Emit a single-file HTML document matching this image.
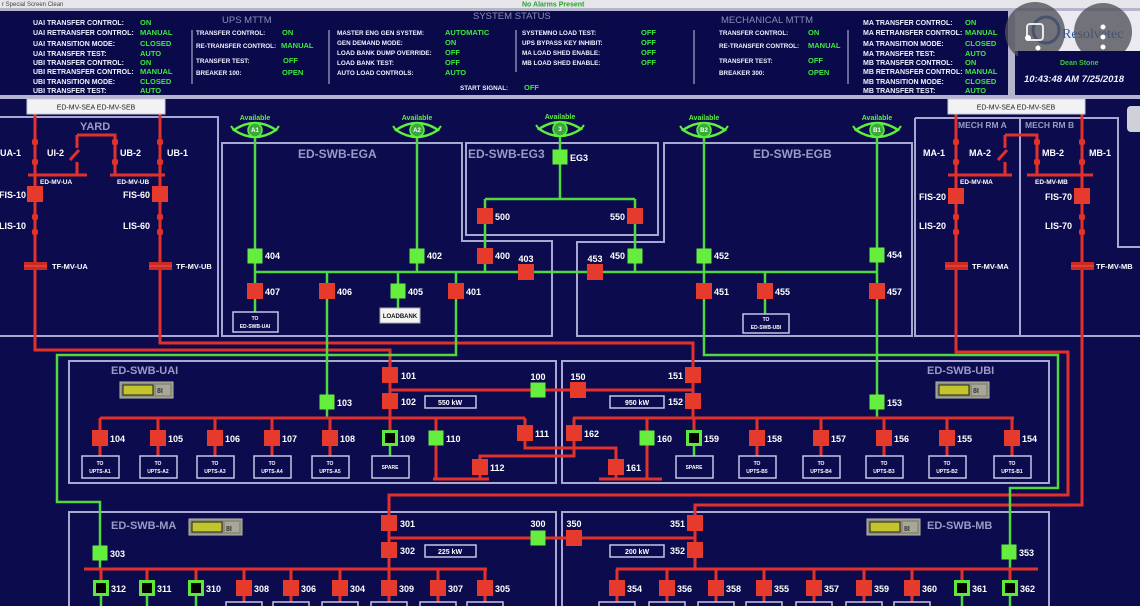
<!DOCTYPE html>
<html><head><meta charset="utf-8"><style>
html,body{margin:0;padding:0;background:#0b0b4e;overflow:hidden}
svg{display:block}
text{font-family:"Liberation Sans",sans-serif;font-weight:bold}
.hl{fill:#f0f0ff;font-size:7px}
.hs{fill:#f0f0ff;font-size:6.3px}
.hv{fill:#3ee83e;font-size:7.5px}
.ht{fill:#8c8cb8;font-size:9.5px;font-weight:normal}
.pt{fill:#9a9ac4;font-size:12px}
.bl{fill:#ffffff;font-size:9px}
.sm{fill:#ffffff;font-size:6.5px}
.tiny{fill:#ffffff;font-size:5px}
.av{fill:#5ef03e;font-size:7px}
.rl{stroke:#e2302a;stroke-width:3;fill:none}
.gl{stroke:#50d83c;stroke-width:2.5;fill:none}
.pb{stroke:#a8a8d2;stroke-width:2;fill:none}
.bx{stroke:#c4c4e4;stroke-width:1.5;fill:#0b0b4e}
</style></head><body>
<svg width="1140" height="606" viewBox="0 0 1140 606" xmlns="http://www.w3.org/2000/svg">
<defs>
<g id="rb"><rect x="-8" y="-8" width="16" height="16" fill="#e63a2c"/></g>
<g id="gb"><rect x="-7.5" y="-7.5" width="15" height="15" fill="#66ee3e"/></g>
<g id="kb"><rect x="-6.5" y="-6.5" width="13" height="13" fill="#000" stroke="#5ee83a" stroke-width="3"/></g>
<g id="eye"><path d="M-21,0 Q0,-14 21,0 Q0,14 -21,0 Z" fill="#0b0b4e" stroke="#5ef03e" stroke-width="2.5"/><path d="M-24,-4 L-21,0 M24,-4 L21,0" stroke="#5ef03e" stroke-width="2"/><circle r="7" fill="#3aa83a" stroke="#5ef03e" stroke-width="1.5"/></g>
<g id="dot"><rect x="-3" y="-3" width="6" height="6" rx="2" fill="#e2302a"/></g>
<g id="ind"><rect x="0" y="0" width="53" height="16" fill="#8e8e7e" stroke="#b8b8a8" stroke-width="1"/><rect x="3" y="3" width="30" height="10" fill="#c4c42c" stroke="#222" stroke-width="1"/><rect x="36" y="3" width="14" height="10" fill="#a8a898"/></g>
</defs>

<rect width="1140" height="606" fill="#0b0b4e"/>

<!-- top menu -->
<rect x="0" y="0" width="1140" height="8" fill="#e6e6ea"/>
<text x="2" y="6" style="font-size:6px;fill:#444;font-weight:normal">r   Special      Screen Clean</text>
<text x="522" y="6.5" style="font-size:7px;fill:#2aa02a">No Alarms Present</text>
<rect x="0" y="8" width="1140" height="3" fill="#b4b4cc"/>

<!-- header -->
<rect x="0" y="11" width="1010" height="84" fill="#0a0a4a"/>
<g>
<text class="hl" x="33" y="25">UAI TRANSFER CONTROL:</text><text class="hv" x="140" y="25">ON</text>
<text class="hl" x="33" y="35">UAI RETRANSFER CONTROL:</text><text class="hv" x="140" y="35">MANUAL</text>
<text class="hl" x="33" y="46">UAI TRANSITION MODE:</text><text class="hv" x="140" y="46">CLOSED</text>
<text class="hl" x="33" y="56">UAI TRANSFER TEST:</text><text class="hv" x="140" y="56">AUTO</text>
<text class="hl" x="33" y="65">UBI TRANSFER CONTROL:</text><text class="hv" x="140" y="65">ON</text>
<text class="hl" x="33" y="74">UBI RETRANSFER CONTROL:</text><text class="hv" x="140" y="74">MANUAL</text>
<text class="hl" x="33" y="84">UBI TRANSITION MODE:</text><text class="hv" x="140" y="84">CLOSED</text>
<text class="hl" x="33" y="93">UBI TRANSFER TEST:</text><text class="hv" x="140" y="93">AUTO</text>
</g>
<line x1="192" y1="30" x2="192" y2="84" stroke="#8888b0" stroke-width="1.5"/>
<text class="ht" x="222" y="23">UPS MTTM</text>
<text class="hs" x="196" y="35">TRANSFER CONTROL:</text><text class="hv" x="282" y="35">ON</text>
<text class="hs" x="196" y="48">RE-TRANSFER CONTROL:</text><text class="hv" x="281" y="48">MANUAL</text>
<text class="hs" x="196" y="63">TRANSFER TEST:</text><text class="hv" x="283" y="63">OFF</text>
<text class="hs" x="196" y="75">BREAKER 100:</text><text class="hv" x="282" y="75">OPEN</text>
<line x1="329" y1="30" x2="329" y2="84" stroke="#8888b0" stroke-width="1.5"/>
<text class="ht" x="473" y="19">SYSTEM STATUS</text>
<text class="hs" x="337" y="35">MASTER ENG GEN SYSTEM:</text><text class="hv" x="445" y="35">AUTOMATIC</text>
<text class="hs" x="337" y="45">GEN DEMAND MODE:</text><text class="hv" x="445" y="45">ON</text>
<text class="hs" x="337" y="55">LOAD BANK DUMP OVERRIDE:</text><text class="hv" x="445" y="55">OFF</text>
<text class="hs" x="337" y="65">LOAD BANK TEST:</text><text class="hv" x="445" y="65">OFF</text>
<text class="hs" x="337" y="75">AUTO LOAD CONTROLS:</text><text class="hv" x="445" y="75">AUTO</text>
<text class="hs" x="460" y="90">START SIGNAL:</text><text class="hv" x="524" y="90">OFF</text>
<line x1="516" y1="30" x2="516" y2="72" stroke="#8888b0" stroke-width="1.5"/>
<text class="hs" x="522" y="35">SYSTEMNO LOAD TEST:</text><text class="hv" x="641" y="35">OFF</text>
<text class="hs" x="522" y="45">UPS BYPASS KEY INHIBIT:</text><text class="hv" x="641" y="45">OFF</text>
<text class="hs" x="522" y="55">MA LOAD SHED ENABLE:</text><text class="hv" x="641" y="55">OFF</text>
<text class="hs" x="522" y="65">MB LOAD SHED ENABLE:</text><text class="hv" x="641" y="65">OFF</text>
<line x1="694" y1="30" x2="694" y2="84" stroke="#8888b0" stroke-width="1.5"/>
<text class="ht" x="721" y="23">MECHANICAL MTTM</text>
<text class="hs" x="719" y="35">TRANSFER CONTROL:</text><text class="hv" x="808" y="35">ON</text>
<text class="hs" x="719" y="48">RE-TRANSFER CONTROL:</text><text class="hv" x="808" y="48">MANUAL</text>
<text class="hs" x="719" y="63">TRANSFER TEST:</text><text class="hv" x="808" y="63">OFF</text>
<text class="hs" x="719" y="75">BREAKER 300:</text><text class="hv" x="808" y="75">OPEN</text>
<line x1="848" y1="30" x2="848" y2="84" stroke="#8888b0" stroke-width="1.5"/>
<g>
<text class="hl" x="863" y="25">MA TRANSFER CONTROL:</text><text class="hv" x="965" y="25">ON</text>
<text class="hl" x="863" y="35">MA RETRANSFER CONTROL:</text><text class="hv" x="965" y="35">MANUAL</text>
<text class="hl" x="863" y="46">MA TRANSITION MODE:</text><text class="hv" x="965" y="46">CLOSED</text>
<text class="hl" x="863" y="56">MA TRANSFER TEST:</text><text class="hv" x="965" y="56">AUTO</text>
<text class="hl" x="863" y="65">MB TRANSFER CONTROL:</text><text class="hv" x="965" y="65">ON</text>
<text class="hl" x="863" y="74">MB RETRANSFER CONTROL:</text><text class="hv" x="965" y="74">MANUAL</text>
<text class="hl" x="863" y="84">MB TRANSITION MODE:</text><text class="hv" x="965" y="84">CLOSED</text>
<text class="hl" x="863" y="93">MB TRANSFER TEST:</text><text class="hv" x="965" y="93">AUTO</text>
</g>

<!-- right logo / clock -->
<rect x="1008" y="11" width="7" height="86" fill="#b4b4cc"/>
<rect x="1015" y="11" width="125" height="40" fill="#eaeaf0"/>
<text x="1062" y="38" style="font-size:14px;fill:#2a5ab0;font-weight:normal;font-family:'Liberation Serif',serif">Resolvetec</text>
<circle cx="1046" cy="30" r="13" fill="none" stroke="#2a5ab0" stroke-width="3"/>
<circle cx="1035" cy="32" r="30" fill="#505058" fill-opacity="0.78"/>
<circle cx="1103" cy="32" r="29" fill="#505058" fill-opacity="0.78"/>
<rect x="1027" y="24" width="16" height="16" rx="3" fill="none" stroke="#e8e8e8" stroke-width="2"/>
<circle cx="1028" cy="38" r="3" fill="#fff"/><circle cx="1038" cy="48" r="2.5" fill="#fff"/>
<circle cx="1103" cy="27" r="2.5" fill="#fff"/><circle cx="1103" cy="37" r="2.5" fill="#fff"/><circle cx="1103" cy="47" r="2.5" fill="#fff"/>
<rect x="1018" y="51" width="122" height="44" fill="#0a0a4a"/>
<text x="1060" y="65" style="font-size:7px;fill:#3ec83e">Dean Stone</text>
<text x="1024" y="82" style="font-size:9.5px;fill:#f0f0ff;font-style:italic">10:43:48 AM  7/25/2018</text>

<rect x="0" y="95" width="1140" height="4" fill="#b4b4d2"/>

<!-- panels -->
<path class="pb" d="M-2 117 H218 V336 H-2"/>
<path class="pb" d="M222 143 H462 V241 H552 V336 H222 Z"/>
<rect class="pb" x="466" y="143" width="192" height="92"/>
<path class="pb" d="M577 336 V242 H664 V143 H912 V336 Z"/>
<path class="pb" d="M915 118 H1118 V247 H1142"/>
<path class="pb" d="M915 118 V336 H1142"/>
<line class="pb" x1="1020" y1="118" x2="1020" y2="336"/>
<rect class="pb" x="69" y="361" width="487" height="122"/>
<rect class="pb" x="562" y="361" width="487" height="122"/>
<rect class="pb" x="69" y="512" width="487" height="100"/>
<rect class="pb" x="562" y="512" width="487" height="100"/>
<rect x="1127" y="106" width="16" height="26" rx="4" fill="#d0d0d8"/>

<text class="pt" x="80" y="130" style="font-size:11px">YARD</text>
<text class="pt" x="298" y="158">ED-SWB-EGA</text>
<text class="pt" x="468" y="158">ED-SWB-EG3</text>
<text class="pt" x="753" y="158">ED-SWB-EGB</text>
<text class="pt" x="958" y="128" style="font-size:8.5px">MECH RM A</text>
<text class="pt" x="1025" y="128" style="font-size:8.5px">MECH RM B</text>
<text class="pt" x="111" y="374" style="font-size:11px">ED-SWB-UAI</text>
<text class="pt" x="927" y="374" style="font-size:11px">ED-SWB-UBI</text>
<text class="pt" x="111" y="529" style="font-size:11px">ED-SWB-MA</text>
<text class="pt" x="927" y="529" style="font-size:11px">ED-SWB-MB</text>

<!-- red feeders -->
<path class="rl" d="M35 114 V350 H390 V418"/>
<path class="rl" d="M160 114 V343 H693 V418"/>
<path class="rl" d="M956 114 V352 H1068 V495 H389 V569"/>
<path class="rl" d="M1082 114 V505 H695 V569"/>
<!-- yard switches -->
<path class="rl" d="M28 175 H87 M110 175 H165 M77 135 H115 V175 M77 135 V148 M79 150 L70 160 M77 162 V175"/>
<path class="rl" d="M948 175 H1012 M1027 175 H1093 M1005 135 H1037 V175 M1005 135 V148 M1007 150 L998 160 M1005 162 V175"/>

<!-- green network -->
<path class="gl" d="M255 136 V316"/>
<path class="gl" d="M417 136 V272"/>
<path class="gl" d="M560 136 V199 M485 199 H635 M485 199 V272 M635 199 V272"/>
<path class="gl" d="M704 136 V355 H1058 V488 H1010 V569"/>
<path class="gl" d="M877 136 V418"/>
<path class="gl" d="M255 272 H877"/>
<path class="gl" d="M327 272 V418"/>
<path class="gl" d="M398 272 V308"/>
<path class="gl" d="M456 272 V355 H57 V502 H100 V569"/>
<path class="gl" d="M765 272 V315"/>

<!-- UAI / UBI red -->
<path class="rl" d="M390 390 H693"/>
<path class="rl" d="M100 418 H525 M573 418 H1014"/>
<path class="rl" d="M100 418 V456 M158 418 V456 M215 418 V456 M272 418 V456 M330 418 V456 M390 418 V432"/>
<path class="rl" d="M436 418 V479 M433 479 H489 M525 418 V448 H616 V479 M574 418 V456 H480 V479 M599 479 H662 M647 418 V479"/>
<path class="rl" d="M694 418 V432 M757 418 V456 M821 418 V456 M884 418 V456 M947 418 V456 M1012 418 V456"/>
<path class="gl" d="M390 444 V456 M694 444 V456"/>
<!-- MA / MB red -->
<path class="rl" d="M389 538 H695"/>
<path class="rl" d="M84 569 H487 M616 569 H1038"/>
<path class="rl" d="M101 569 V582 M147 569 V582 M196 569 V582 M244 569 V606 M291 569 V606 M340 569 V606 M389 569 V606 M438 569 V606 M485 569 V606"/>
<path class="rl" d="M617 569 V606 M667 569 V606 M716 569 V606 M764 569 V606 M814 569 V606 M864 569 V606 M912 569 V606 M962 569 V582 M1010 569 V582"/>
<path class="gl" d="M101 594 V606 M147 594 V606 M196 594 V606 M962 594 V606 M1010 594 V606"/>

<!-- disconnect dots -->
<use href="#dot" x="35" y="142"/><use href="#dot" x="35" y="162"/><use href="#dot" x="160" y="142"/><use href="#dot" x="160" y="162"/>
<use href="#dot" x="115" y="142"/><use href="#dot" x="115" y="162"/>
<use href="#dot" x="35" y="217"/><use href="#dot" x="35" y="232"/><use href="#dot" x="160" y="217"/><use href="#dot" x="160" y="232"/>
<use href="#dot" x="956" y="142"/><use href="#dot" x="956" y="162"/><use href="#dot" x="1082" y="142"/><use href="#dot" x="1082" y="162"/>
<use href="#dot" x="1037" y="142"/><use href="#dot" x="1037" y="162"/>
<use href="#dot" x="956" y="217"/><use href="#dot" x="956" y="232"/><use href="#dot" x="1082" y="217"/><use href="#dot" x="1082" y="232"/>
<!-- transformers -->
<rect x="24" y="262" width="23" height="8" fill="#c82a24"/><rect x="149" y="262" width="23" height="8" fill="#c82a24"/>
<rect x="945" y="262" width="23" height="8" fill="#c82a24"/><rect x="1071" y="262" width="23" height="8" fill="#c82a24"/>
<path d="M24 266 H47 M149 266 H172 M945 266 H968 M1071 266 H1094" stroke="#ff5040" stroke-width="1"/>

<!-- yard labels -->
<text class="bl" x="0" y="156">UA-1</text><text class="bl" x="47" y="156">UI-2</text>
<text class="bl" x="120" y="156">UB-2</text><text class="bl" x="167" y="156">UB-1</text>
<text class="sm" x="40" y="184">ED-MV-UA</text><text class="sm" x="117" y="184">ED-MV-UB</text>
<text class="bl" x="26" y="198" text-anchor="end">FIS-10</text><text class="bl" x="150" y="198" text-anchor="end">FIS-60</text>
<text class="bl" x="26" y="229" text-anchor="end">LIS-10</text><text class="bl" x="150" y="229" text-anchor="end">LIS-60</text>
<text class="sm" x="52" y="269" style="font-size:7.5px">TF-MV-UA</text><text class="sm" x="176" y="269" style="font-size:7.5px">TF-MV-UB</text>
<text class="bl" x="923" y="156">MA-1</text><text class="bl" x="969" y="156">MA-2</text>
<text class="bl" x="1042" y="156">MB-2</text><text class="bl" x="1089" y="156">MB-1</text>
<text class="sm" x="960" y="184">ED-MV-MA</text><text class="sm" x="1035" y="184">ED-MV-MB</text>
<text class="bl" x="946" y="200" text-anchor="end">FIS-20</text><text class="bl" x="1072" y="200" text-anchor="end">FIS-70</text>
<text class="bl" x="946" y="229" text-anchor="end">LIS-20</text><text class="bl" x="1072" y="229" text-anchor="end">LIS-70</text>
<text class="sm" x="972" y="269" style="font-size:7.5px">TF-MV-MA</text><text class="sm" x="1096" y="269" style="font-size:7.5px">TF-MV-MB</text>

<!-- top label boxes -->
<rect x="27" y="99" width="138" height="15" fill="#f2f2f4" stroke="#c8c8d8"/>
<text x="96" y="109.5" text-anchor="middle" style="font-size:7px;fill:#222;font-weight:normal">ED-MV-SEA  ED-MV-SEB</text>
<rect x="948" y="99" width="137" height="15" fill="#f2f2f4" stroke="#c8c8d8"/>
<text x="1016" y="109.5" text-anchor="middle" style="font-size:7px;fill:#222;font-weight:normal">ED-MV-SEA ED-MV-SEB</text>

<!-- eyes -->
<g>
<text class="av" x="255" y="120" text-anchor="middle">Available</text><use href="#eye" x="255" y="130"/><text class="tiny" x="255" y="132" text-anchor="middle" style="font-size:6px">A1</text>
<text class="av" x="417" y="120" text-anchor="middle">Available</text><use href="#eye" x="417" y="130"/><text class="tiny" x="417" y="132" text-anchor="middle" style="font-size:6px">A2</text>
<text class="av" x="560" y="119" text-anchor="middle">Available</text><use href="#eye" x="560" y="129"/><text class="tiny" x="560" y="131" text-anchor="middle" style="font-size:6px">3</text>
<text class="av" x="704" y="120" text-anchor="middle">Available</text><use href="#eye" x="704" y="130"/><text class="tiny" x="704" y="132" text-anchor="middle" style="font-size:6px">B2</text>
<text class="av" x="877" y="120" text-anchor="middle">Available</text><use href="#eye" x="877" y="130"/><text class="tiny" x="877" y="132" text-anchor="middle" style="font-size:6px">B1</text>
</g>

<!-- small boxes top -->
<rect class="bx" x="233" y="312" width="45" height="20"/>
<text class="tiny" x="255" y="320" text-anchor="middle">TO</text><text class="tiny" x="255" y="328" text-anchor="middle">ED-SWB-UAI</text>
<rect x="380" y="308" width="40" height="15" fill="#f4f4f4" stroke="#aaa"/>
<text x="400" y="318" text-anchor="middle" style="font-size:6px;fill:#111">LOADBANK</text>
<rect class="bx" x="743" y="314" width="46" height="19"/>
<text class="tiny" x="766" y="321" text-anchor="middle">TO</text><text class="tiny" x="766" y="329" text-anchor="middle">ED-SWB-UBI</text>

<!-- breakers top -->
<use href="#gb" x="255" y="256"/><use href="#rb" x="255" y="291"/><use href="#rb" x="327" y="291"/>
<use href="#gb" x="417" y="256"/><use href="#gb" x="398" y="291"/><use href="#rb" x="456" y="291"/>
<use href="#rb" x="485" y="256"/><use href="#rb" x="485" y="216"/><use href="#rb" x="635" y="216"/>
<use href="#gb" x="635" y="256"/><use href="#gb" x="560" y="157"/>
<use href="#rb" x="526" y="272"/><use href="#rb" x="595" y="272"/>
<use href="#gb" x="704" y="256"/><use href="#rb" x="704" y="291"/><use href="#rb" x="765" y="291"/>
<use href="#gb" x="877" y="255"/><use href="#rb" x="877" y="291"/>
<use href="#rb" x="35" y="194"/><use href="#rb" x="160" y="194"/><use href="#rb" x="956" y="196"/><use href="#rb" x="1082" y="196"/>

<g class="bl">
<text class="bl" x="265" y="259">404</text><text class="bl" x="265" y="295">407</text><text class="bl" x="337" y="295">406</text>
<text class="bl" x="427" y="259">402</text><text class="bl" x="408" y="295">405</text><text class="bl" x="466" y="295">401</text>
<text class="bl" x="495" y="259">400</text><text class="bl" x="495" y="220">500</text><text class="bl" x="625" y="220" text-anchor="end">550</text>
<text class="bl" x="625" y="259" text-anchor="end">450</text><text class="bl" x="570" y="161">EG3</text>
<text class="bl" x="526" y="262" text-anchor="middle">403</text><text class="bl" x="595" y="262" text-anchor="middle">453</text>
<text class="bl" x="714" y="259">452</text><text class="bl" x="714" y="295">451</text><text class="bl" x="775" y="295">455</text>
<text class="bl" x="887" y="258">454</text><text class="bl" x="887" y="295">457</text>
</g>

<!-- UAI -->
<use href="#ind" x="120" y="382"/><text x="157" y="393" style="font-size:7px;fill:#333">8I</text>
<use href="#ind" x="936" y="382"/><text x="973" y="393" style="font-size:7px;fill:#333">8I</text>
<rect class="bx" x="425" y="396" width="51" height="12"/><text class="sm" x="450" y="405" text-anchor="middle" style="font-size:7px">550 kW</text>
<rect class="bx" x="610" y="396" width="54" height="12"/><text class="sm" x="637" y="405" text-anchor="middle" style="font-size:7px">950 kW</text>

<use href="#rb" x="390" y="375"/><use href="#rb" x="390" y="401"/><use href="#gb" x="327" y="402"/><use href="#gb" x="538" y="390"/>
<use href="#rb" x="100" y="438"/><use href="#rb" x="158" y="438"/><use href="#rb" x="215" y="438"/><use href="#rb" x="272" y="438"/><use href="#rb" x="330" y="438"/>
<use href="#kb" x="390" y="438"/><use href="#gb" x="436" y="438"/><use href="#rb" x="525" y="433"/><use href="#rb" x="480" y="467"/>
<use href="#rb" x="578" y="390"/><use href="#rb" x="693" y="375"/><use href="#rb" x="693" y="401"/><use href="#gb" x="877" y="402"/>
<use href="#rb" x="574" y="433"/><use href="#rb" x="616" y="467"/><use href="#gb" x="647" y="438"/><use href="#kb" x="694" y="438"/>
<use href="#rb" x="757" y="438"/><use href="#rb" x="821" y="438"/><use href="#rb" x="884" y="438"/><use href="#rb" x="947" y="438"/><use href="#rb" x="1012" y="438"/>

<text class="bl" x="401" y="379">101</text><text class="bl" x="401" y="405">102</text><text class="bl" x="337" y="406">103</text>
<text class="bl" x="538" y="380" text-anchor="middle">100</text>
<text class="bl" x="110" y="442">104</text><text class="bl" x="168" y="442">105</text><text class="bl" x="225" y="442">106</text><text class="bl" x="282" y="442">107</text><text class="bl" x="340" y="442">108</text>
<text class="bl" x="400" y="442">109</text><text class="bl" x="446" y="442">110</text><text class="bl" x="535" y="437">111</text><text class="bl" x="490" y="471">112</text>
<text class="bl" x="578" y="380" text-anchor="middle">150</text><text class="bl" x="683" y="379" text-anchor="end">151</text><text class="bl" x="683" y="405" text-anchor="end">152</text>
<text class="bl" x="887" y="406">153</text><text class="bl" x="584" y="437">162</text><text class="bl" x="626" y="471">161</text>
<text class="bl" x="657" y="442">160</text><text class="bl" x="704" y="442">159</text><text class="bl" x="767" y="442">158</text><text class="bl" x="831" y="442">157</text>
<text class="bl" x="894" y="442">156</text><text class="bl" x="957" y="442">155</text><text class="bl" x="1022" y="442">154</text>

<!-- UAI/UBI load boxes -->
<g>
<rect class="bx" x="82" y="456" width="37" height="22"/><text class="tiny" x="100" y="465" text-anchor="middle">TO</text><text class="tiny" x="100" y="473" text-anchor="middle">UPTS-A1</text>
<rect class="bx" x="140" y="456" width="37" height="22"/><text class="tiny" x="158" y="465" text-anchor="middle">TO</text><text class="tiny" x="158" y="473" text-anchor="middle">UPTS-A2</text>
<rect class="bx" x="197" y="456" width="37" height="22"/><text class="tiny" x="215" y="465" text-anchor="middle">TO</text><text class="tiny" x="215" y="473" text-anchor="middle">UPTS-A3</text>
<rect class="bx" x="254" y="456" width="37" height="22"/><text class="tiny" x="272" y="465" text-anchor="middle">TO</text><text class="tiny" x="272" y="473" text-anchor="middle">UPTS-A4</text>
<rect class="bx" x="312" y="456" width="37" height="22"/><text class="tiny" x="330" y="465" text-anchor="middle">TO</text><text class="tiny" x="330" y="473" text-anchor="middle">UPTS-A5</text>
<rect class="bx" x="372" y="456" width="37" height="22"/><text class="tiny" x="390" y="469" text-anchor="middle">SPARE</text>
<rect class="bx" x="676" y="456" width="37" height="22"/><text class="tiny" x="694" y="469" text-anchor="middle">SPARE</text>
<rect class="bx" x="739" y="456" width="37" height="22"/><text class="tiny" x="757" y="465" text-anchor="middle">TO</text><text class="tiny" x="757" y="473" text-anchor="middle">UPTS-B5</text>
<rect class="bx" x="803" y="456" width="37" height="22"/><text class="tiny" x="821" y="465" text-anchor="middle">TO</text><text class="tiny" x="821" y="473" text-anchor="middle">UPTS-B4</text>
<rect class="bx" x="866" y="456" width="37" height="22"/><text class="tiny" x="884" y="465" text-anchor="middle">TO</text><text class="tiny" x="884" y="473" text-anchor="middle">UPTS-B3</text>
<rect class="bx" x="929" y="456" width="37" height="22"/><text class="tiny" x="947" y="465" text-anchor="middle">TO</text><text class="tiny" x="947" y="473" text-anchor="middle">UPTS-B2</text>
<rect class="bx" x="994" y="456" width="37" height="22"/><text class="tiny" x="1012" y="465" text-anchor="middle">TO</text><text class="tiny" x="1012" y="473" text-anchor="middle">UPTS-B1</text>
</g>

<!-- MA / MB -->
<use href="#ind" x="189" y="519"/><text x="226" y="531" style="font-size:7px;fill:#333">8I</text>
<use href="#ind" x="867" y="519"/><text x="904" y="531" style="font-size:7px;fill:#333">8I</text>
<rect class="bx" x="425" y="545" width="51" height="12"/><text class="sm" x="450" y="554" text-anchor="middle" style="font-size:7px">225 kW</text>
<rect class="bx" x="610" y="545" width="54" height="12"/><text class="sm" x="637" y="554" text-anchor="middle" style="font-size:7px">200 kW</text>

<g>
<rect class="bx" x="226" y="602" width="36" height="20"/><rect class="bx" x="273" y="602" width="36" height="20"/><rect class="bx" x="322" y="602" width="36" height="20"/>
<rect class="bx" x="371" y="602" width="36" height="20"/><rect class="bx" x="420" y="602" width="36" height="20"/><rect class="bx" x="467" y="602" width="36" height="20"/>
<rect class="bx" x="599" y="602" width="36" height="20"/><rect class="bx" x="649" y="602" width="36" height="20"/><rect class="bx" x="698" y="602" width="36" height="20"/>
<rect class="bx" x="746" y="602" width="36" height="20"/><rect class="bx" x="796" y="602" width="36" height="20"/><rect class="bx" x="846" y="602" width="36" height="20"/><rect class="bx" x="894" y="602" width="36" height="20"/>
</g>

<use href="#rb" x="389" y="523"/><use href="#rb" x="389" y="550"/><use href="#gb" x="538" y="538"/><use href="#gb" x="100" y="553"/>
<use href="#kb" x="101" y="588"/><use href="#kb" x="147" y="588"/><use href="#kb" x="196" y="588"/>
<use href="#rb" x="244" y="588"/><use href="#rb" x="291" y="588"/><use href="#rb" x="340" y="588"/><use href="#rb" x="389" y="588"/><use href="#rb" x="438" y="588"/><use href="#rb" x="485" y="588"/>
<use href="#rb" x="574" y="538"/><use href="#rb" x="695" y="523"/><use href="#rb" x="695" y="550"/><use href="#gb" x="1009" y="552"/>
<use href="#rb" x="617" y="588"/><use href="#rb" x="667" y="588"/><use href="#rb" x="716" y="588"/><use href="#rb" x="764" y="588"/><use href="#rb" x="814" y="588"/><use href="#rb" x="864" y="588"/><use href="#rb" x="912" y="588"/>
<use href="#kb" x="962" y="588"/><use href="#kb" x="1010" y="588"/>

<text class="bl" x="400" y="527">301</text><text class="bl" x="400" y="554">302</text><text class="bl" x="538" y="527" text-anchor="middle">300</text><text class="bl" x="110" y="557">303</text>
<text class="bl" x="111" y="592">312</text><text class="bl" x="157" y="592">311</text><text class="bl" x="206" y="592">310</text><text class="bl" x="254" y="592">308</text>
<text class="bl" x="301" y="592">306</text><text class="bl" x="350" y="592">304</text><text class="bl" x="399" y="592">309</text><text class="bl" x="448" y="592">307</text><text class="bl" x="495" y="592">305</text>
<text class="bl" x="574" y="527" text-anchor="middle">350</text><text class="bl" x="685" y="527" text-anchor="end">351</text><text class="bl" x="685" y="554" text-anchor="end">352</text><text class="bl" x="1019" y="556">353</text>
<text class="bl" x="627" y="592">354</text><text class="bl" x="677" y="592">356</text><text class="bl" x="726" y="592">358</text><text class="bl" x="774" y="592">355</text>
<text class="bl" x="824" y="592">357</text><text class="bl" x="874" y="592">359</text><text class="bl" x="922" y="592">360</text><text class="bl" x="972" y="592">361</text><text class="bl" x="1020" y="592">362</text>
</svg>
</body></html>
